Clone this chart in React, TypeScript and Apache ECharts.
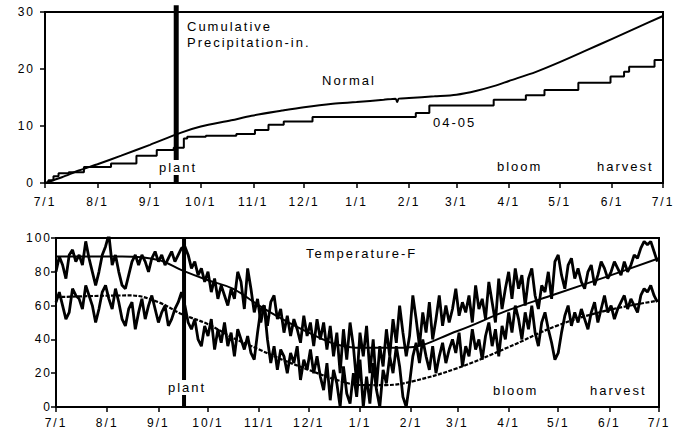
import React, { useEffect, useRef } from "react";
import * as echarts from "echarts";

// x = day of season, 0 = 7/1/2004 ... 365 = 7/1/2005
const monthDays = [0, 31, 62, 92, 123, 153, 184, 215, 243, 274, 304, 335, 365];
const monthLabels = ["7/1", "8/1", "9/1", "10/1", "11/1", "12/1", "1/1", "2/1", "3/1", "4/1", "5/1", "6/1", "7/1"];

const plantDay = 77.5;

// Cumulative precipitation (in.) – [day, value]
const normalPrecip = [
  [0, 0], [10, 1.0], [20, 2.2], [31, 3.3], [45, 4.8], [62, 6.7], [80, 8.8], [92, 9.9],
  [110, 11.0], [122, 11.8], [140, 12.7], [153, 13.3], [170, 13.9], [184, 14.2], [200, 14.6],
  [207, 14.8], [208, 14.2], [209, 14.8], [215, 14.9], [230, 15.2], [243, 15.5], [255, 16.2],
  [265, 17.0], [274, 17.9], [290, 19.5], [304, 21.2], [320, 23.3], [335, 25.3], [350, 27.3], [365, 29.3],
];
const precip0405 = [
  [0, 0], [2, 0.5], [5, 1.2], [8, 1.7], [14, 1.9], [23, 2.8], [39, 3.4], [54, 4.8], [66, 5.8],
  [76, 6.2], [82, 7.8], [84, 8.1], [95, 8.3], [113, 8.6], [124, 9.3], [132, 10.2], [141, 10.8],
  [158, 11.6], [219, 12.3], [227, 13.6], [265, 14.6], [284, 15.4], [295, 16.3], [315, 17.6],
  [334, 18.7], [342, 19.5], [345, 20.4], [360, 21.6], [365, 21.6],
];

// Daily temperature (F), one reading every 2 days starting 7/1
const tempStep = 2;
const maxTemp = [
  80, 89, 84, 76, 90, 93, 86, 90, 84, 98,
  88, 80, 72, 80, 90, 95, 102, 84, 90, 80,
  72, 70, 78, 86, 90, 84, 90, 86, 80, 88,
  92, 86, 90, 84, 88, 92, 86, 90, 94, 95,
  90, 82, 86, 78, 82, 74, 80, 68, 76, 64,
  72, 66, 60, 70, 64, 80, 74, 58, 82, 70,
  56, 64, 50, 60, 48, 62, 66, 52, 58, 44,
  54, 42, 52, 46, 38, 54, 42, 50, 36, 52,
  40, 50, 34, 48, 30, 44, 20, 46, 28, 50,
  36, 14, 44, 30, 48, 20, 40, 12, 36, 24,
  46, 30, 52, 38, 60, 44, 30, 42, 66, 52,
  36, 56, 44, 62, 40, 52, 66, 48, 60, 50,
  58, 70, 54, 62, 56, 66, 50, 72, 58, 64,
  52, 74, 62, 50, 76, 58, 70, 80, 64, 82,
  70, 78, 60, 76, 82, 66, 58, 72, 68, 80,
  64, 86, 90, 78, 70, 84, 88, 76, 82, 74,
  70, 80, 84, 72, 78, 86, 82, 76, 80, 86,
  82, 78, 86, 80, 84, 90, 88, 94, 98, 96,
  98, 92, 86,
];
const minTemp = [
  62, 68, 60, 52, 56, 70, 66, 64, 58, 72,
  66, 60, 50, 58, 68, 72, 64, 58, 70, 62,
  52, 48, 58, 62, 46, 56, 64, 52, 60, 66,
  58, 50, 56, 60, 48, 52, 58, 62, 68, 60,
  50, 46, 52, 40, 36, 48, 42, 52, 34, 46,
  38, 50, 36, 44, 30, 46, 40, 34, 42, 32,
  28, 44, 58, 60, 40, 26, 36, 22, 34, 30,
  20, 32, 26, 36, 16, 28, 22, 34, 20, 30,
  18, 10, 26, 4, 22, 14, 0, 24, 8, 2,
  20, 6, 28, 0, 18, 2, 26, 10, 0, 22,
  14, 30, 20, 36, 24, 6, 0, 14, 30, 38,
  26, 40, 30, 22, 36, 20, 30, 38, 26, 34,
  40, 32, 44, 24, 36, 30, 46, 34, 40, 28,
  42, 50, 36, 46, 30, 48, 40, 56, 44, 60,
  52, 40, 56, 46, 60, 44, 36, 50, 56, 46,
  38, 28, 32, 44, 54, 60, 48, 56, 50, 58,
  52, 46, 56, 62, 50, 58, 66, 56, 60, 52,
  58, 62, 66, 58, 64, 60, 56, 66, 70, 68,
  72, 66, 62,
];
const normalMax = [
  [0, 89], [40, 89], [62, 87], [76, 81], [92, 75], [107, 70], [123, 60], [137, 52], [153, 44],
  [170, 37], [185, 35], [210, 35], [243, 45], [273, 57], [303, 67], [333, 77], [365, 88],
];
const normalMin = [
  [0, 65], [45, 66], [62, 62], [76, 55], [92, 49], [107, 41], [123, 34], [137, 28], [153, 22],
  [170, 16], [185, 13], [200, 13], [215, 15], [243, 23], [273, 35], [303, 48], [333, 57], [365, 63],
];

const FONT = '"Liberation Sans", Arial, sans-serif';

export default function App() {
  const ref = useRef<HTMLDivElement>(null);
  useEffect(() => {
    if (!ref.current) return;
    const chart = echarts.init(ref.current, undefined, { renderer: "svg" });
    const xAxisBase = (gridIndex: number, margin: number) => ({
      type: "value" as const,
      gridIndex,
      min: 0,
      max: 365,
      splitLine: { show: false },
      axisLine: { show: true, lineStyle: { color: "#000", width: 2 } },
      axisTick: { show: true, customValues: monthDays, length: 5, lineStyle: { color: "#000", width: 1.5 } },
      axisLabel: {
        customValues: monthDays,
        margin,
        color: "#000",
        fontFamily: FONT,
        fontSize: 12,
        formatter: (v: number) => {
          const i = monthDays.indexOf(Math.round(v));
          return i >= 0 ? monthLabels[i] : "";
        },
      },
    });
    const yAxisBase = (gridIndex: number, max: number, interval: number, margin: number) => ({
      type: "value" as const,
      gridIndex,
      min: 0,
      max,
      interval,
      splitLine: { show: false },
      axisLine: { show: true, lineStyle: { color: "#000", width: 2 } },
      axisTick: { show: true, length: 5, lineStyle: { color: "#000", width: 1.5 } },
      axisLabel: { margin, color: "#000", fontFamily: FONT, fontSize: 12 },
    });
    const lineBase = { type: "line" as const, symbol: "none", showSymbol: false, silent: true };
    const txt = (text: string, x: number, y: number, bg = false) => ({
      type: "text" as const,
      x,
      y,
      z: 100,
      style: {
        text,
        font: `13px ${FONT}`,
        fill: "#000",
        ...(bg ? { backgroundColor: "#fff", padding: [1, 8, 1, 2] } : {}),
      },
    });
    chart.setOption({
      animation: false,
      backgroundColor: "#fff",
      grid: [
        { left: 45, top: 12, width: 618, height: 171, show: true, borderColor: "#000", borderWidth: 2, backgroundColor: "transparent" },
        { left: 56, top: 238, width: 603, height: 169, show: true, borderColor: "#000", borderWidth: 2, backgroundColor: "transparent" },
      ],
      xAxis: [xAxisBase(0, 13), xAxisBase(1, 10)],
      yAxis: [yAxisBase(0, 30, 10, 10), yAxisBase(1, 100, 20, 4)],
      series: [
        { ...lineBase, name: "Normal", xAxisIndex: 0, yAxisIndex: 0, smooth: 0.3, data: normalPrecip, lineStyle: { color: "#000", width: 2 } },
        { ...lineBase, name: "04-05", xAxisIndex: 0, yAxisIndex: 0, step: "end", data: precip0405, lineStyle: { color: "#000", width: 2 } },
        { ...lineBase, name: "plant-top", xAxisIndex: 0, yAxisIndex: 0, clip: false, data: [[plantDay, 0], [plantDay, 31.2]], lineStyle: { color: "#000", width: 5 }, z: 5 },
        { ...lineBase, name: "Normal max", xAxisIndex: 1, yAxisIndex: 1, smooth: 0.4, data: normalMax, lineStyle: { color: "#000", width: 2 } },
        { ...lineBase, name: "Normal min", xAxisIndex: 1, yAxisIndex: 1, smooth: 0.4, data: normalMin, lineStyle: { color: "#000", width: 2.2, type: [4, 1.5] } },
        { ...lineBase, name: "Max", xAxisIndex: 1, yAxisIndex: 1, data: maxTemp.map((v, i) => [i * tempStep, v]), lineStyle: { color: "#000", width: 2.8 } },
        { ...lineBase, name: "Min", xAxisIndex: 1, yAxisIndex: 1, data: minTemp.map((v, i) => [i * tempStep, v]), lineStyle: { color: "#000", width: 2.8 } },
        { ...lineBase, name: "plant-bottom", xAxisIndex: 1, yAxisIndex: 1, data: [[plantDay, 0], [plantDay, 100]], lineStyle: { color: "#000", width: 4 }, z: 5 },
      ],
      graphic: [
        txt("Cumulative", 187, 20),
        txt("Precipitation-in.", 187, 36),
        txt("Normal", 322, 74),
        txt("04-05", 433, 116),
        txt("plant", 157, 160, true),
        txt("bloom", 497, 160),
        txt("harvest", 597, 160),
        txt("Temperature-F", 306, 247),
        txt("plant", 166, 380, true),
        txt("bloom", 493, 384),
        txt("harvest", 590, 384),
      ],
    });
    return () => chart.dispose();
  }, []);
  return (
    <>
      <style>{`.rc-chart svg text { letter-spacing: 2px; }`}</style>
      <div
        ref={ref}
        className="rc-chart"
        style={{ position: "fixed", left: 0, top: 0, width: 678, height: 437, background: "#fff" }}
      />
    </>
  );
}
